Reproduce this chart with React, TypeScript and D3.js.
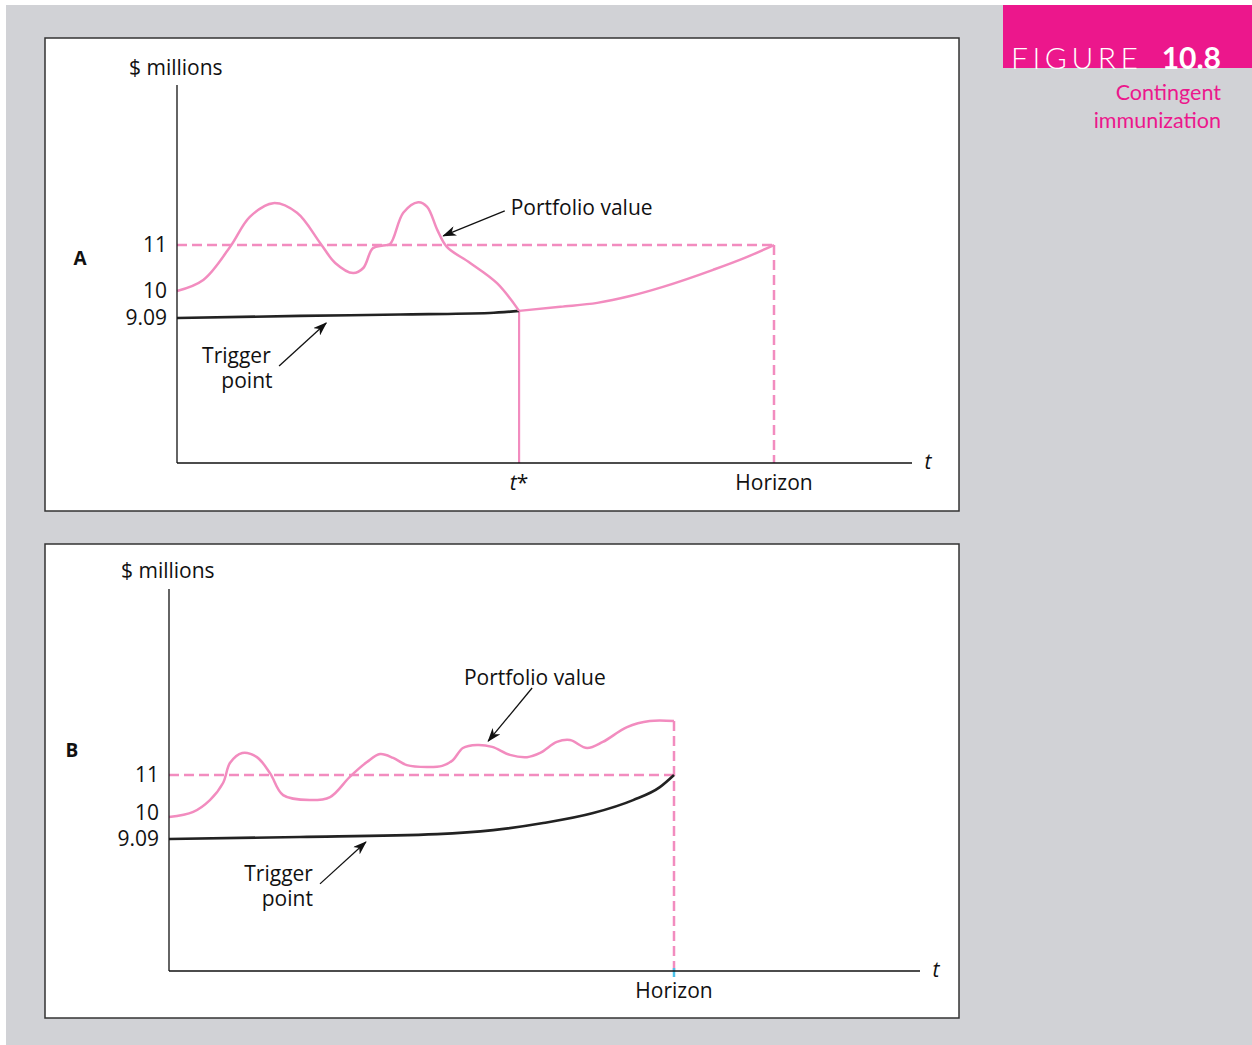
import React from 'react';
import * as d3 from 'd3';

// ---------- data (t in years, horizon = 10; values in $ millions) ----------
const yTicks = [9.09, 10, 11];
const yTickLabels = ['9.09', '10', '11'];
const horizon = 10;
const targetValue = 11;

// Panel A
const aPortfolioT = [0, 0.44, 0.89, 1.22, 1.61, 2.01, 2.4, 2.65, 2.95, 3.12, 3.28, 3.45, 3.57, 3.79, 4.04, 4.19, 4.36, 4.52, 4.91, 5.36, 5.73];
const aPortfolioV = [10.0, 10.24, 10.96, 11.61, 11.91, 11.7, 11.04, 10.61, 10.39, 10.5, 10.93, 10.99, 11.02, 11.7, 11.93, 11.83, 11.33, 10.96, 10.61, 10.17, 9.33];
const aTriggerT = [0, 2.06, 3.74, 5.24, 5.73];
const aTriggerV = [9.09, 9.16, 9.21, 9.26, 9.33];
const aImmunizedT = [5.73, 6.42, 7.04, 7.59, 8.14, 8.98, 9.51, 10];
const aImmunizedV = [9.33, 9.47, 9.6, 9.83, 10.09, 10.46, 10.72, 11];
const aTStar = 5.73;

// Panel B
const bPortfolioT = [0, 0.48, 0.81, 1.07, 1.21, 1.45, 1.74, 2.0, 2.26, 2.79, 3.19, 3.58, 3.92, 4.18, 4.44, 4.71, 5.11, 5.41, 5.62, 5.82, 6.1, 6.4, 6.75, 7.09, 7.35, 7.68, 7.94, 8.28, 8.59, 9.07, 9.52, 10];
const bPortfolioV = [9.86, 10.03, 10.34, 10.79, 11.32, 11.58, 11.47, 11.05, 10.47, 10.34, 10.42, 10.95, 11.34, 11.55, 11.45, 11.26, 11.21, 11.24, 11.39, 11.71, 11.79, 11.74, 11.53, 11.47, 11.58, 11.87, 11.92, 11.71, 11.87, 12.26, 12.42, 12.42];
const bTriggerT = [0, 2.59, 5.31, 6.42, 7.41, 8.4, 9.19, 9.72, 10];
const bTriggerV = [9.09, 9.16, 9.26, 9.4, 9.65, 10.0, 10.34, 10.68, 11];

// ---------- style ----------
const PINK = '#f28cbf';
const MAGENTA = '#ec178c';
const BG = '#d1d2d6';
const FONT = '"Open Sans", "Noto Sans", sans-serif';

type Pt = [number, number];
const zip = (t: number[], v: number[]): Pt[] => t.map((d, i) => [d, v[i]]);

type Annot = {
  pvText: Pt; pvTail: Pt; pvTip: Pt;
  trigText: Pt; pointText: Pt; trigTail: Pt; trigTip: Pt;
};

type PanelProps = {
  box: { x: number; y: number; w: number; h: number };
  letter: string;
  letterPos: [number, number];
  xRange: [number, number];
  axisEnd: number;
  yRange: number[]; // pixel positions of yTicks
  axisTop: number;
  axisBottom: number;
  unitsPos: [number, number];
  portfolio: Pt[];
  trigger: Pt[];
  immunized?: Pt[];
  tStar?: number;
  annot: Annot;
  cyanTick?: boolean;
  labelBaseline: number;
};

const Panel: React.FC<PanelProps> = (p) => {
  const x = d3.scaleLinear().domain([0, horizon]).range(p.xRange);
  const y = d3.scaleLinear().domain(yTicks).range(p.yRange);
  const x0 = x(0);
  const line = d3.line<Pt>().x(d => x(d[0])).y(d => y(d[1])).curve(d3.curveCatmullRom.alpha(0.5));
  const smooth = d3.line<Pt>().x(d => x(d[0])).y(d => y(d[1])).curve(d3.curveMonotoneX);
  const pEnd = p.portfolio[p.portfolio.length - 1];
  const a = p.annot;
  const fs = 21;
  return (
    <g>
      <rect x={p.box.x} y={p.box.y} width={p.box.w} height={p.box.h} fill="#fff" stroke="#333" strokeWidth={1.5} />
      {/* dashed target line */}
      <line x1={x0} x2={x(horizon)} y1={y(targetValue)} y2={y(targetValue)} stroke={PINK} strokeWidth={2.5} strokeDasharray="10,5" />
      {/* dashed horizon line */}
      <line x1={x(horizon)} x2={x(horizon)} y1={p.immunized ? y(targetValue) : y(pEnd[1])} y2={p.axisBottom} stroke={PINK} strokeWidth={2.5} strokeDasharray="10,5" />
      {p.cyanTick && (
        <line x1={x(horizon)} x2={x(horizon)} y1={p.axisBottom - 3} y2={p.axisBottom + 6} stroke="#4cc3ea" strokeWidth={2.5} />
      )}
      {/* t* vertical */}
      {p.tStar !== undefined && (
        <line x1={x(p.tStar)} x2={x(p.tStar)} y1={y(p.trigger[p.trigger.length - 1][1])} y2={p.axisBottom} stroke={PINK} strokeWidth={2.2} />
      )}
      {/* trigger */}
      <path d={smooth(p.trigger) || ''} fill="none" stroke="#222" strokeWidth={2.6} />
      {/* immunized continuation */}
      {p.immunized && <path d={smooth(p.immunized) || ''} fill="none" stroke={PINK} strokeWidth={2.5} />}
      {/* portfolio value */}
      <path d={line(p.portfolio) || ''} fill="none" stroke={PINK} strokeWidth={2.5} strokeLinejoin="round" />
      {/* axes */}
      <line x1={x0} x2={x0} y1={p.axisTop} y2={p.axisBottom} stroke="#111" strokeWidth={1.3} />
      <line x1={x0} x2={p.axisEnd} y1={p.axisBottom} y2={p.axisBottom} stroke="#111" strokeWidth={1.3} />
      {/* tick labels */}
      {yTicks.map((v, i) => (
        <text key={i} x={x0 - 10} y={y(v)} dy="0.35em" textAnchor="end" fontSize={fs} fontFamily={FONT} fill="#111">{yTickLabels[i]}</text>
      ))}
      <text x={p.unitsPos[0]} y={p.unitsPos[1]} fontSize={fs} fontFamily={FONT} fill="#111">$ millions</text>
      <text x={p.letterPos[0]} y={p.letterPos[1]} dy="0.35em" textAnchor="middle" fontSize={19} fontWeight="bold" fontFamily={FONT} fill="#111">{p.letter}</text>
      <text x={p.axisEnd + 16} y={p.axisBottom + 6} textAnchor="middle" fontSize={fs} fontStyle="italic" fontFamily={FONT} fill="#111">t</text>
      <text x={x(horizon)} y={p.labelBaseline} textAnchor="middle" fontSize={fs} fontFamily={FONT} fill="#111">Horizon</text>
      {p.tStar !== undefined && (
        <text x={x(p.tStar)} y={p.labelBaseline} textAnchor="middle" fontSize={fs} fontFamily={FONT} fill="#111">
          <tspan fontStyle="italic">t</tspan>*
        </text>
      )}
      {/* annotations */}
      <text x={x(a.pvText[0])} y={y(a.pvText[1])} fontSize={fs} fontFamily={FONT} fill="#111">Portfolio value</text>
      <line x1={x(a.pvTail[0])} y1={y(a.pvTail[1])} x2={x(a.pvTip[0])} y2={y(a.pvTip[1])} stroke="#111" strokeWidth={1.3} markerEnd="url(#arrowhead)" />
      <text x={x(a.trigText[0])} y={y(a.trigText[1])} textAnchor="end" fontSize={fs} fontFamily={FONT} fill="#111">Trigger</text>
      <text x={x(a.pointText[0])} y={y(a.pointText[1])} textAnchor="end" fontSize={fs} fontFamily={FONT} fill="#111">point</text>
      <line x1={x(a.trigTail[0])} y1={y(a.trigTail[1])} x2={x(a.trigTip[0])} y2={y(a.trigTip[1])} stroke="#111" strokeWidth={1.3} markerEnd="url(#arrowhead)" />
    </g>
  );
};

export default function App() {
  return (
    <svg width={1252} height={1045} style={{ position: 'absolute', left: 0, top: 0 }}>
      <defs>
        <marker id="arrowhead" viewBox="0 0 14 10" refX={13} refY={5} markerWidth={14} markerHeight={10} markerUnits="userSpaceOnUse" orient="auto">
          <path d="M0,0 L14,5 L0,10 L4,5 Z" fill="#111" />
        </marker>
      </defs>
      <rect x={0} y={0} width={1252} height={1045} fill="#fff" />
      <rect x={6} y={5} width={1246} height={1040} fill={BG} />

      {/* figure label */}
      <rect x={1003} y={5} width={249} height={63} fill={MAGENTA} />
      <text x={1011} y={69} fontSize={30} fontFamily='Lato, "Open Sans", sans-serif' fontWeight={300} fill="#fff" textLength={127} lengthAdjust="spacing">FIGURE</text>
      <text x={1221} y={69} textAnchor="end" fontSize={30} fontFamily='Lato, "Open Sans", sans-serif' fontWeight="bold" fill="#fff">10.8</text>
      <text x={1221} y={100} textAnchor="end" fontSize={21.5} fontFamily='Lato, "Open Sans", sans-serif' fill={MAGENTA}>Contingent</text>
      <text x={1221} y={128} textAnchor="end" fontSize={21.5} fontFamily='Lato, "Open Sans", sans-serif' fill={MAGENTA}>immunization</text>

      <Panel
        box={{ x: 45, y: 38, w: 914, h: 473 }}
        letter="A"
        letterPos={[80, 258]}
        xRange={[177, 774]}
        axisEnd={912}
        yRange={[318, 291, 245]}
        axisTop={85}
        axisBottom={463}
        unitsPos={[129, 75]}
        portfolio={zip(aPortfolioT, aPortfolioV)}
        trigger={zip(aTriggerT, aTriggerV)}
        immunized={zip(aImmunizedT, aImmunizedV)}
        tStar={aTStar}
        labelBaseline={490}
        annot={{
          pvText: [5.59, 11.65], pvTail: [5.49, 11.74], pvTip: [4.46, 11.2],
          trigText: [1.57, 7.57], pointText: [1.6, 6.74], trigTail: [1.71, 7.47], trigTip: [2.5, 8.92],
        }}
      />
      <Panel
        box={{ x: 45, y: 544, w: 914, h: 474 }}
        letter="B"
        letterPos={[72, 750]}
        xRange={[169, 674]}
        axisEnd={920}
        yRange={[839, 813, 775]}
        axisTop={589}
        axisBottom={971}
        unitsPos={[121, 578]}
        portfolio={zip(bPortfolioT, bPortfolioV)}
        trigger={zip(bTriggerT, bTriggerV)}
        labelBaseline={998}
        cyanTick
        annot={{
          pvText: [5.84, 13.37], pvTail: [7.19, 13.29], pvTip: [6.32, 11.89],
          trigText: [2.85, 7.62], pointText: [2.85, 6.74], trigTail: [2.99, 7.52], trigTip: [3.9, 8.985],
        }}
      />
    </svg>
  );
}
